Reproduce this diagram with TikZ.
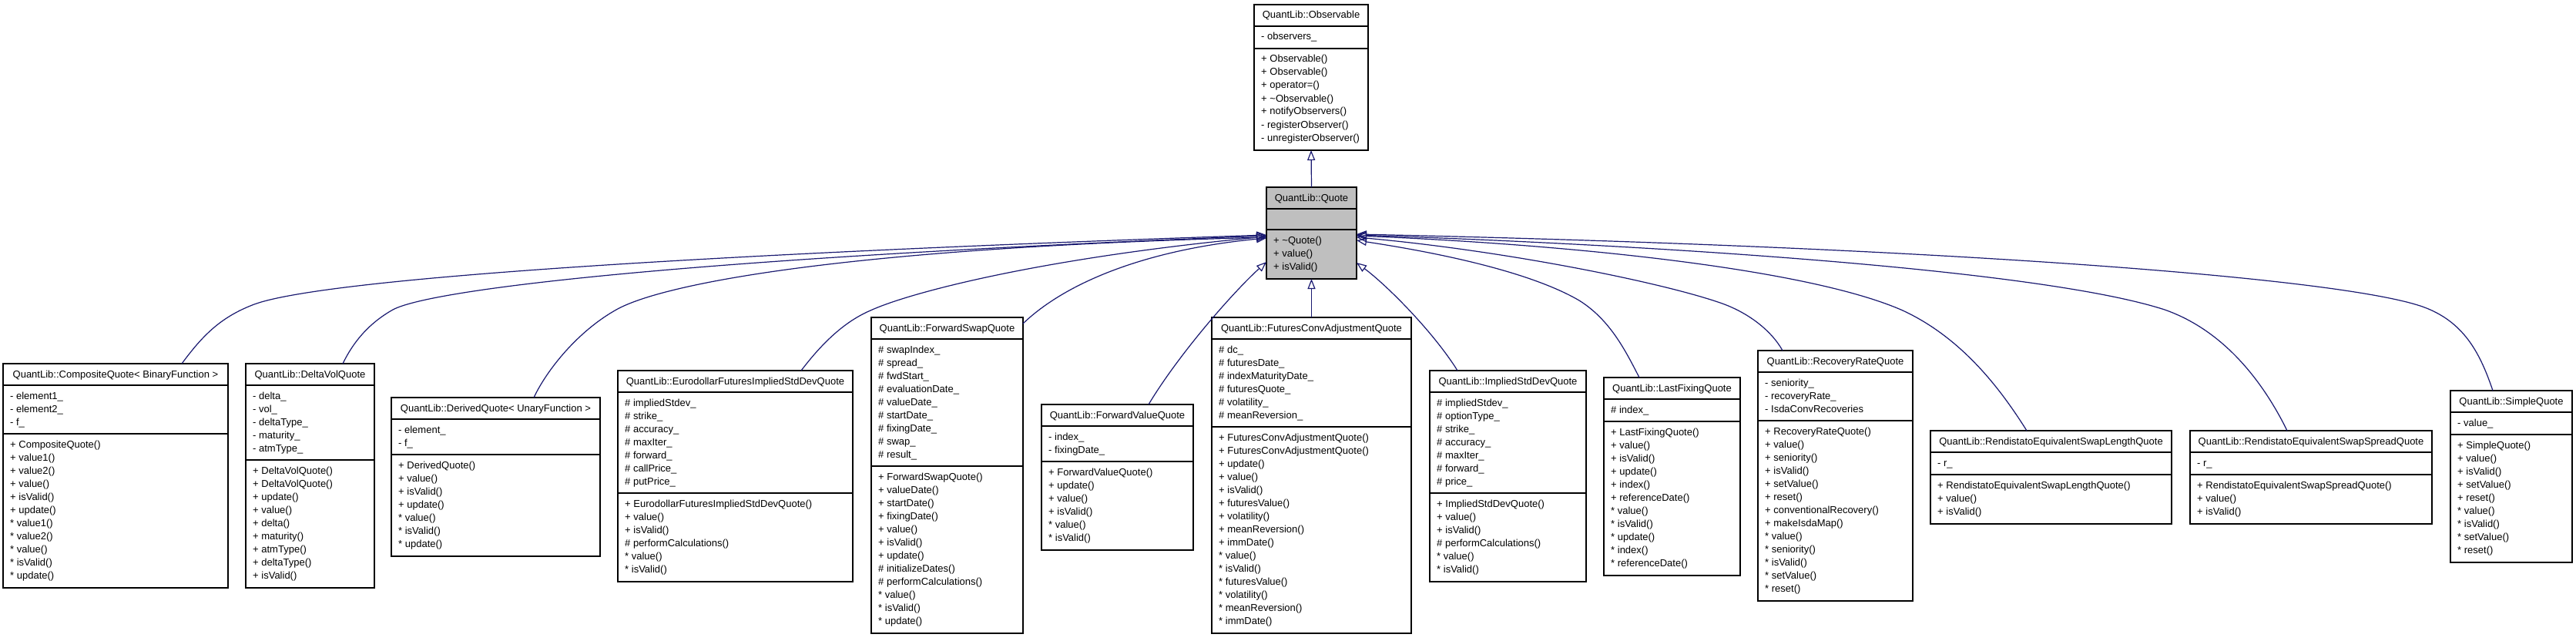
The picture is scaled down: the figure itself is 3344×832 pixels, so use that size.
\documentclass[tikz,border=0pt]{standalone}
\usepackage{fontspec}
\setmainfont{Liberation Sans}
\usetikzlibrary{arrows.meta}
\definecolor{edgeblue}{HTML}{191970}
\definecolor{quotegray}{HTML}{BFBFBF}
\def\cbfill{white}
\tikzset{
  classnode/.style={draw=black, line width=1.4pt, fill=\cbfill, anchor=north west, inner sep=0pt, outer sep=0pt},
  sepline/.style={draw=black, line width=1.4pt},
  titletext/.style={anchor=base, inner sep=0pt, font=\fontsize{13}{17}\selectfont},
  itemtext/.style={anchor=base west, inner sep=0pt, font=\fontsize{13}{17}\selectfont},
  edge/.style={draw=edgeblue, line width=1.2pt, -{Triangle[open, length=13pt, width=10pt]}},
}
\newcommand\classbox[9]{%
  \pgfmathsetmacro\cbT{#4+28}%
  \pgfmathsetmacro\cbA{\cbT+(#5==0)*27+(#5>0)*(17*#5+12)}%
  \pgfmathsetmacro\cbB{\cbA+17*#6+13}%
  \pgfmathsetmacro\cbW{#3-#2}%
  \pgfmathsetmacro\cbH{\cbB-#4}%
  \node[classnode, minimum width=\cbW pt, minimum height=\cbH pt] (#1) at (#2,#4) {};
  \draw[sepline] (#2,\cbT) -- (#3,\cbT);
  \draw[sepline] (#2,\cbA) -- (#3,\cbA);
  \node[titletext] at ({(#2+#3)/2},#4+18) {#7};
  \ifnum#5>0
    \foreach \t [count=\i from 0] in {#8} {\node[itemtext] at (#2+9,\cbT+18+17*\i) {\t};}
  \fi
  \foreach \t [count=\i from 0] in {#9} {\node[itemtext] at (#2+9,\cbA+18+17*\i) {\t};}
}
\begin{document}
\begin{tikzpicture}[x=1pt, y=-1pt]
\fill[white] (0,0) rectangle (3344,832);
\useasboundingbox (0,0) rectangle (3344,832);

\classbox{obs}{1628}{1776}{6}{1}{7}{QuantLib::Observable}
  {- observers\_}
  {+ Observable(), + Observable(), + operator=(), + \textasciitilde Observable(), + notifyObservers(), - registerObserver(), - unregisterObserver()}

\def\cbfill{quotegray}
\classbox{quote}{1644}{1761}{243}{0}{3}{QuantLib::Quote}
  {}
  {+ \textasciitilde Quote(), + value(), + isValid()}
\def\cbfill{white}

\classbox{comp}{4}{296}{472}{3}{11}{QuantLib::CompositeQuote< BinaryFunction >}
  {- element1\_, - element2\_, - f\_}
  {+ CompositeQuote(), + value1(), + value2(), + value(), + isValid(), + update(), * value1(), * value2(), * value(), * isValid(), * update()}

\classbox{dvq}{319}{486}{472}{5}{9}{QuantLib::DeltaVolQuote}
  {- delta\_, - vol\_, - deltaType\_, - maturity\_, - atmType\_}
  {+ DeltaVolQuote(), + DeltaVolQuote(), + update(), + value(), + delta(), + maturity(), + atmType(), + deltaType(), + isValid()}

\classbox{derived}{508}{779}{516}{2}{7}{QuantLib::DerivedQuote< UnaryFunction >}
  {- element\_, - f\_}
  {+ DerivedQuote(), + value(), + isValid(), + update(), * value(), * isValid(), * update()}

\classbox{euro}{802}{1107}{481}{7}{6}{QuantLib::EurodollarFuturesImpliedStdDevQuote}
  {\# impliedStdev\_, \# strike\_, \# accuracy\_, \# maxIter\_, \# forward\_, \# callPrice\_, \# putPrice\_}
  {+ EurodollarFuturesImpliedStdDevQuote(), + value(), + isValid(), \# performCalculations(), * value(), * isValid()}

\classbox{fswap}{1131}{1328}{412}{9}{12}{QuantLib::ForwardSwapQuote}
  {\# swapIndex\_, \# spread\_, \# fwdStart\_, \# evaluationDate\_, \# valueDate\_, \# startDate\_, \# fixingDate\_, \# swap\_, \# result\_}
  {+ ForwardSwapQuote(), + valueDate(), + startDate(), + fixingDate(), + value(), + isValid(), + update(), \# initializeDates(), \# performCalculations(), * value(), * isValid(), * update()}

\classbox{fvq}{1352}{1549}{525}{2}{6}{QuantLib::ForwardValueQuote}
  {- index\_, - fixingDate\_}
  {+ ForwardValueQuote(), + update(), + value(), + isValid(), * value(), * isValid()}

\classbox{fcaq}{1573}{1832}{412}{6}{15}{QuantLib::FuturesConvAdjustmentQuote}
  {\# dc\_, \# futuresDate\_, \# indexMaturityDate\_, \# futuresQuote\_, \# volatility\_, \# meanReversion\_}
  {+ FuturesConvAdjustmentQuote(), + FuturesConvAdjustmentQuote(), + update(), + value(), + isValid(), + futuresValue(), + volatility(), + meanReversion(), + immDate(), * value(), * isValid(), * futuresValue(), * volatility(), * meanReversion(), * immDate()}

\classbox{isdq}{1856}{2059}{481}{7}{6}{QuantLib::ImpliedStdDevQuote}
  {\# impliedStdev\_, \# optionType\_, \# strike\_, \# accuracy\_, \# maxIter\_, \# forward\_, \# price\_}
  {+ ImpliedStdDevQuote(), + value(), + isValid(), \# performCalculations(), * value(), * isValid()}

\classbox{lfq}{2082}{2259}{490}{1}{11}{QuantLib::LastFixingQuote}
  {\# index\_}
  {+ LastFixingQuote(), + value(), + isValid(), + update(), + index(), + referenceDate(), * value(), * isValid(), * update(), * index(), * referenceDate()}

\classbox{rrq}{2282}{2483}{455}{3}{13}{QuantLib::RecoveryRateQuote}
  {- seniority\_, - recoveryRate\_, - IsdaConvRecoveries}
  {+ RecoveryRateQuote(), + value(), + seniority(), + isValid(), + setValue(), + reset(), + conventionalRecovery(), + makeIsdaMap(), * value(), * seniority(), * isValid(), * setValue(), * reset()}

\classbox{resl}{2506}{2819}{559}{1}{3}{QuantLib::RendistatoEquivalentSwapLengthQuote}
  {- r\_}
  {+ RendistatoEquivalentSwapLengthQuote(), + value(), + isValid()}

\classbox{ress}{2843}{3157}{559}{1}{3}{QuantLib::RendistatoEquivalentSwapSpreadQuote}
  {- r\_}
  {+ RendistatoEquivalentSwapSpreadQuote(), + value(), + isValid()}

\classbox{sq}{3181}{3339}{507}{1}{9}{QuantLib::SimpleQuote}
  {- value\_}
  {+ SimpleQuote(), + value(), + isValid(), + setValue(), + reset(), * value(), * isValid(), * setValue(), * reset()}

% inheritance edges
\draw[edge] (quote.north) -- (obs.south);
\draw[edge] (fcaq.north) -- (quote.south);
\draw[edge] ([xshift=86pt]comp.north) .. controls (262,437) and (285,412) .. (330,395) .. controls (420,362) and (900,330) .. ([yshift=-62pt]quote.north west);
\draw[edge] ([xshift=42.5pt]dvq.north) .. controls (458,445) and (478,420) .. (510,402) .. controls (560,375) and (900,335) .. ([yshift=-63pt]quote.north west);
\draw[edge] ([xshift=49.5pt]derived.north) .. controls (710,480) and (750,430) .. (800,402) .. controls (860,368) and (1100,322) .. ([yshift=-65pt]quote.north west);
\draw[edge] ([xshift=85.5pt]euro.north) .. controls (1060,455) and (1090,420) .. (1130,403) .. controls (1180,380) and (1350,335) .. ([yshift=-64pt]quote.north west);
\draw[edge] ([yshift=-8pt]fswap.north east) .. controls (1380,370) and (1480,325) .. ([yshift=-66pt]quote.north west);
\draw[edge] ([xshift=40.5pt]fvq.north) .. controls (1530,460) and (1600,380) .. ([yshift=-97pt]quote.north west);
\draw[edge] ([xshift=-65.5pt]isdq.north) .. controls (1860,430) and (1800,370) .. ([yshift=-98pt]quote.north east);
\draw[edge] ([xshift=-42.5pt]lfq.north) .. controls (2110,455) and (2090,415) .. (2050,390) .. controls (1990,355) and (1880,330) .. ([yshift=-69pt]quote.north east);
\draw[edge] ([xshift=-68.5pt]rrq.north) .. controls (2300,430) and (2270,405) .. (2230,392) .. controls (2150,365) and (1950,325) .. ([yshift=-65pt]quote.north east);
\draw[edge] ([xshift=-31.5pt]resl.north) .. controls (2600,510) and (2550,440) .. (2470,403) .. controls (2350,350) and (2050,318) .. ([yshift=-63pt]quote.north east);
\draw[edge] ([xshift=-31pt]ress.north) .. controls (2940,500) and (2890,430) .. (2810,402) .. controls (2650,350) and (2150,318) .. ([yshift=-62pt]quote.north east);
\draw[edge] ([xshift=-24pt]sq.north) .. controls (3220,460) and (3200,420) .. (3150,400) .. controls (3050,360) and (2500,320) .. ([yshift=-61pt]quote.north east);
\end{tikzpicture}
\end{document}
